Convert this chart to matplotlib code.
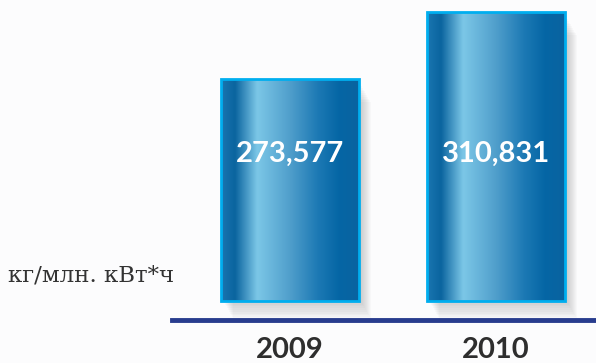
import numpy as np
import matplotlib
matplotlib.use("Agg")
import matplotlib.pyplot as plt
from matplotlib.colors import LinearSegmentedColormap

years = ["2009", "2010"]
values = [273.577, 310.831]
value_labels = ["273,577", "310,831"]
unit = "кг/млн. кВт*ч"

base = 150.0  # the bars start from a cut baseline, not from zero

fig = plt.figure(figsize=(5.96, 3.63), dpi=100)
fig.patch.set_facecolor("#fcfcfd")
ax = fig.add_axes([0, 0, 1, 1])
ax.set_facecolor("#fcfcfd")
ax.axis("off")

x = np.arange(len(years))
width = 0.67

# soft shadow to the right / below
for k in range(1, 11):
    dx = 0.005 * k
    ax.bar(x + dx + 0.01, np.array(values) - base - 3, width, bottom=base - 1.0 * k,
           color="#8a8a8a", alpha=0.045, linewidth=0, zorder=1)

# horizontal metallic gradient
grad = LinearSegmentedColormap.from_list("bar", [
    (0.00, "#1a76b0"),
    (0.10, "#0a649f"),
    (0.26, "#7cc7e7"),
    (0.50, "#4f9ecb"),
    (0.70, "#1c79b4"),
    (0.85, "#0566a5"),
    (1.00, "#0a63a0"),
])
g = np.linspace(0, 1, 256).reshape(1, -1)

bars = ax.bar(x, np.array(values) - base, width, bottom=base,
              color="none", edgecolor="#00aeef", linewidth=2.0, zorder=4)
for b in bars:
    x0, y0 = b.get_x(), b.get_y()
    im = ax.imshow(g, extent=[x0, x0 + b.get_width(), y0, y0 + b.get_height()],
                   aspect="auto", cmap=grad, zorder=3, interpolation="bicubic")
    im.set_clip_path(b)

for xi, lab in zip(x, value_labels):
    ax.text(xi, 231.8, lab, ha="center", va="center", color="white",
            fontsize=21, fontweight="bold", family="Lato", zorder=5)

for xi, yr in zip(x, years):
    ax.text(xi, 122.5, yr, ha="center", va="center", color="#2e2e2e",
            fontsize=21, fontweight="bold", family="Lato")

ax.set_xlim(-1.408, 1.485)
ax.set_ylim(115.5, 317.4)

# baseline
ax.axhline(139.4, xmin=172 / 596, xmax=1.0, color="#283c8e", linewidth=3.5, zorder=2)

fig.text(8 / 596, 87 / 363, unit, ha="left", va="center", color="#333333",
         fontsize=16.5, family="DejaVu Serif")

fig.savefig("out.png", dpi=100, facecolor=fig.get_facecolor())
